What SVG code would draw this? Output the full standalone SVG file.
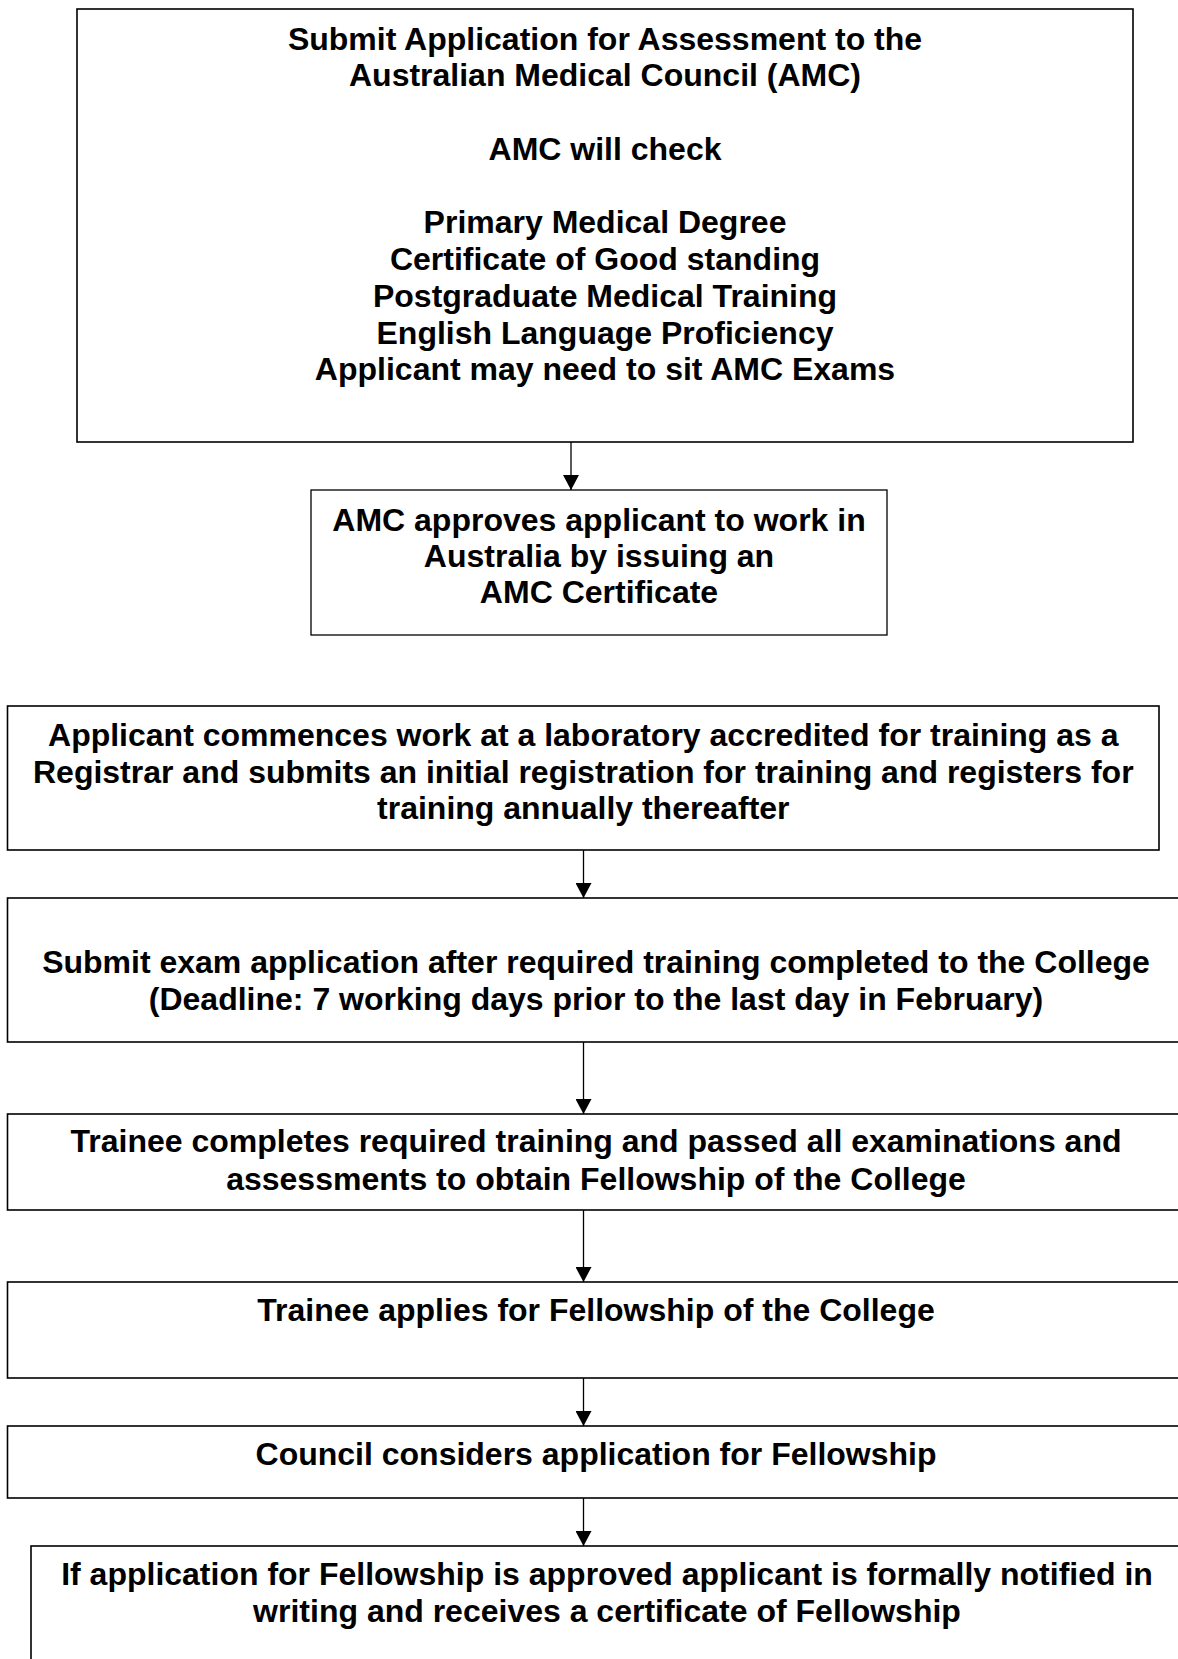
<svg xmlns="http://www.w3.org/2000/svg" width="1178" height="1659" viewBox="0 0 1178 1659">
  <style>
    .box { fill: #ffffff; stroke: #000000; stroke-width: 1.6; }
    .thin { stroke-width: 1.3; }
    .lbl { font-family: "Liberation Sans", Arial, sans-serif; font-weight: bold; font-size: 32px; fill: #000000; text-anchor: middle; }
    .link { stroke: #000000; stroke-width: 1.3; fill: none; marker-end: url(#arrow); }
  </style>
  <defs>
    <marker id="arrow" markerUnits="userSpaceOnUse" markerWidth="16" markerHeight="16" refX="15" refY="8" orient="auto">
      <path d="M0,0 L15,8 L0,16 Z" fill="#000000"/>
    </marker>
  </defs>
  <rect width="1178" height="1659" fill="#ffffff"/>

  <!-- AMC assessment -->
  <g id="amc-assessment">
    <rect class="box" x="77" y="9" width="1056" height="433"/>
    <text class="lbl" x="605" y="49.5">Submit Application for Assessment to the</text>
    <text class="lbl" x="605" y="85.5">Australian Medical Council (AMC)</text>
    <text class="lbl" x="605" y="159.8">AMC will check</text>
    <text class="lbl" x="605" y="233.4">Primary Medical Degree</text>
    <text class="lbl" x="605" y="270">Certificate of Good standing</text>
    <text class="lbl" x="605" y="306.8">Postgraduate Medical Training</text>
    <text class="lbl" x="605" y="343.5">English Language Proficiency</text>
    <text class="lbl" x="605" y="379.8">Applicant may need to sit AMC Exams</text>
  </g>

  <!-- AMC certificate -->
  <g id="amc-certificate">
    <rect class="box thin" x="311" y="490" width="576" height="145"/>
    <text class="lbl" x="599" y="531">AMC approves applicant to work in</text>
    <text class="lbl" x="599" y="567.3">Australia by issuing an</text>
    <text class="lbl" x="599" y="603.3">AMC Certificate</text>
  </g>

  <!-- Registrar work -->
  <g id="registrar">
    <rect class="box" x="7.5" y="706" width="1151.5" height="144"/>
    <text class="lbl" x="583.3" y="746">Applicant commences work at a laboratory accredited for training as a</text>
    <text class="lbl" x="583.3" y="782.7">Registrar and submits an initial registration for training and registers for</text>
    <text class="lbl" x="583.3" y="819.3">training annually thereafter</text>
  </g>

  <!-- Exam application -->
  <g id="exam-application">
    <rect class="box" x="7.5" y="898" width="1180" height="144"/>
    <text class="lbl" x="596" y="973.3">Submit exam application after required training completed to the College</text>
    <text class="lbl" x="596" y="1010">(Deadline: 7 working days prior to the last day in February)</text>
  </g>

  <!-- Training completed -->
  <g id="training-complete">
    <rect class="box" x="7.5" y="1114" width="1180" height="96"/>
    <text class="lbl" x="596" y="1152">Trainee completes required training and passed all examinations and</text>
    <text class="lbl" x="596" y="1190">assessments to obtain Fellowship of the College</text>
  </g>

  <!-- Fellowship application -->
  <g id="fellowship-application">
    <rect class="box" x="7.5" y="1282" width="1180" height="96"/>
    <text class="lbl" x="596" y="1321">Trainee applies for Fellowship of the College</text>
  </g>

  <!-- Council review -->
  <g id="council-review">
    <rect class="box" x="7.5" y="1426" width="1180" height="72"/>
    <text class="lbl" x="596" y="1465">Council considers application for Fellowship</text>
  </g>

  <!-- Notification -->
  <g id="notification">
    <rect class="box" x="31" y="1546" width="1152" height="140"/>
    <text class="lbl" x="607" y="1585">If application for Fellowship is approved applicant is formally notified in</text>
    <text class="lbl" x="607" y="1621.7">writing and receives a certificate of Fellowship</text>
  </g>

  <!-- Connectors -->
  <g id="connectors">
    <line class="link" x1="571" y1="442" x2="571" y2="490"/>
    <line class="link" x1="583.5" y1="850" x2="583.5" y2="898"/>
    <line class="link" x1="583.5" y1="1042" x2="583.5" y2="1114"/>
    <line class="link" x1="583.5" y1="1210" x2="583.5" y2="1282"/>
    <line class="link" x1="583.5" y1="1378" x2="583.5" y2="1426"/>
    <line class="link" x1="583.5" y1="1498" x2="583.5" y2="1546"/>
  </g>
</svg>
